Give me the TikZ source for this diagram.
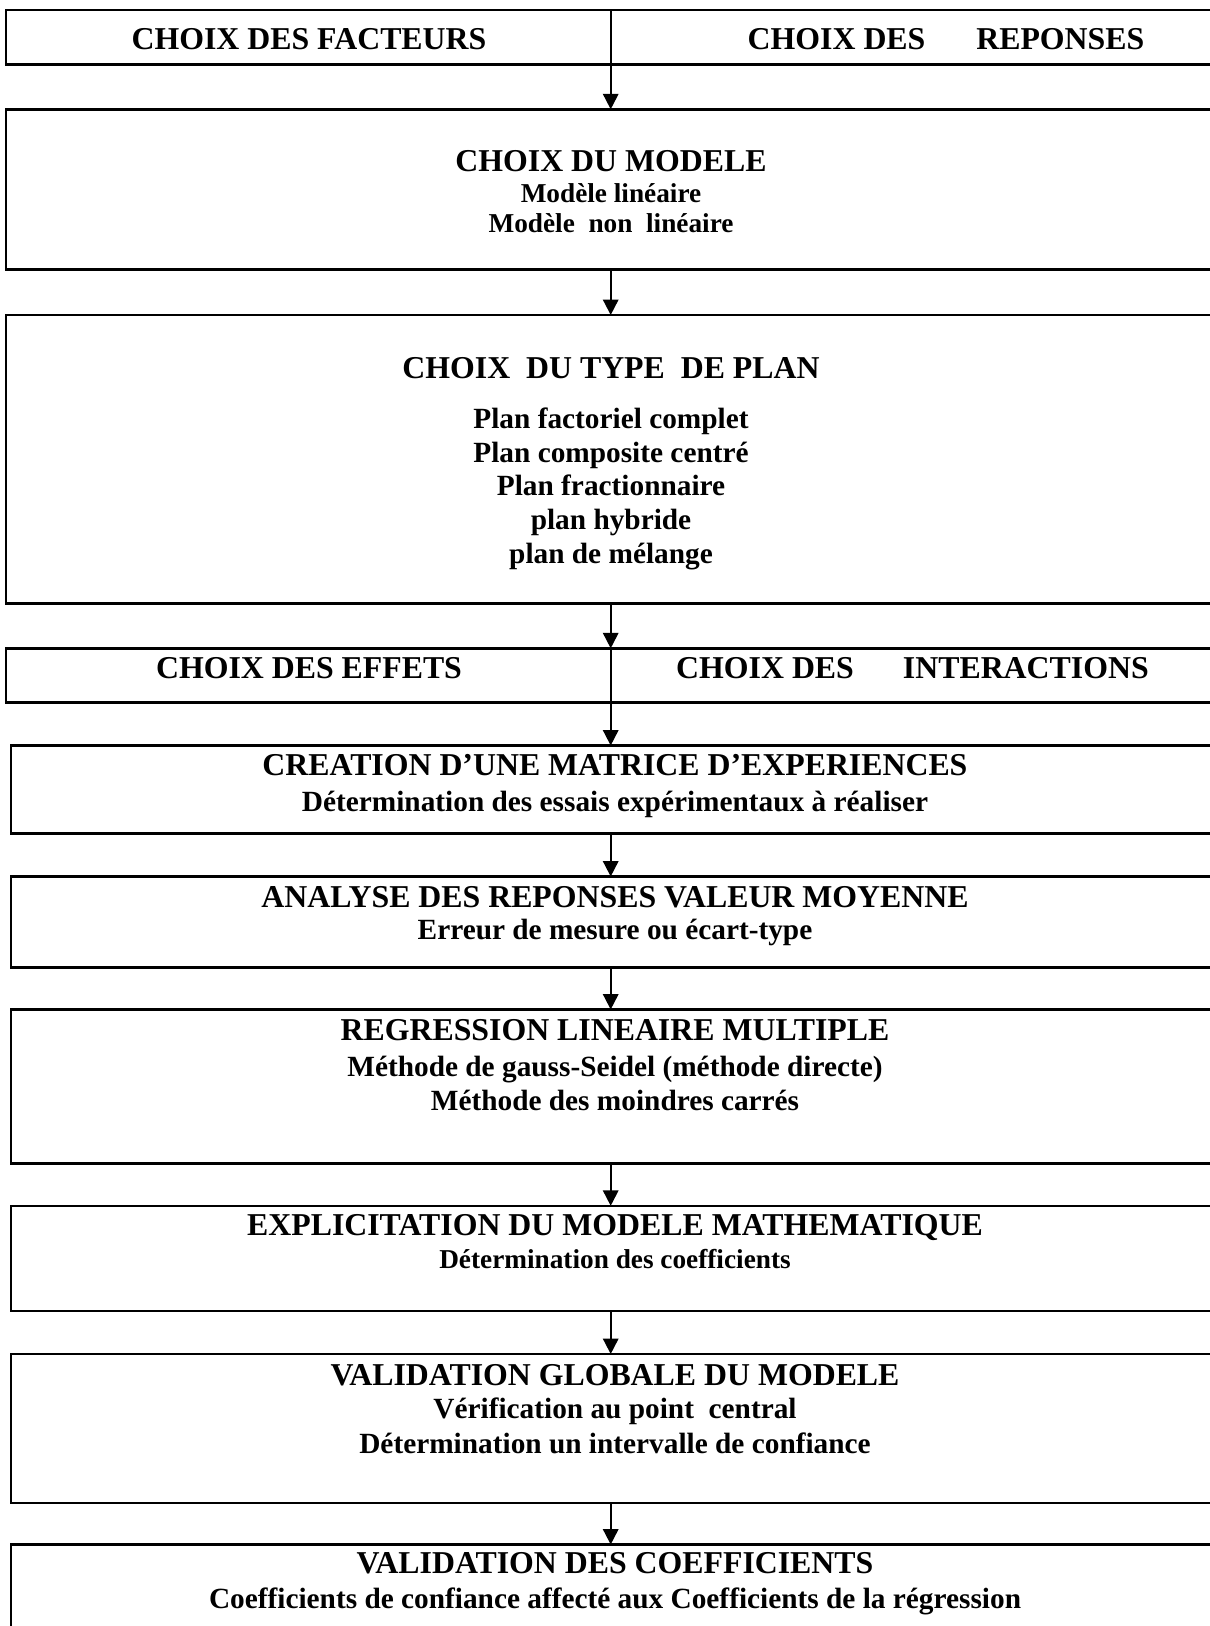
\documentclass[tikz,border=0pt]{standalone}
\usepackage{fontspec}
\setmainfont{Liberation Serif}
\usetikzlibrary{arrows.meta, fit}

\begin{document}
\begin{tikzpicture}[
  x=0.44pt, y=-0.44pt,
  box/.style={draw, line width=1.1pt, inner sep=0pt, outer sep=0pt},
  ttl/.style={anchor=base, inner sep=0pt, font=\fontsize{14}{16}\selectfont\bfseries},
  sub/.style={anchor=base, inner sep=0pt, font=\fontsize{12.9}{15}\selectfont\bfseries},
  subsm/.style={anchor=base, inner sep=0pt, font=\fontsize{12}{14}\selectfont\bfseries},
  arr/.style={-{Triangle[length=6.8pt, width=6.8pt]}, line width=0.8pt},
]
\path[use as bounding box, fill=white] (0,0) rectangle (1210,1626);
\clip (0,0) rectangle (1210,1626);

% Boxes
\node[box, fit={(6,10) (1216,64.3)}] (b1) {};
\node[box, fit={(6,109.3) (1216,269.3)}] (b2) {};
\node[box, fit={(6,315) (1216,603.3)}] (b3) {};
\node[box, fit={(6,648.3) (1216,702.7)}] (b4) {};
\node[box, fit={(11,745.5) (1219,833.5)}] (b5) {};
\node[box, fit={(11,876.5) (1219,967.5)}] (b6) {};
\node[box, fit={(11,1009.5) (1219,1163.5)}] (b7) {};
\node[box, fit={(11,1205.8) (1219,1311)}] (b8) {};
\node[box, fit={(11,1354) (1219,1502.8)}] (b9) {};
\node[box, fit={(11,1544.5) (1219,1640)}] (b10) {};
\coordinate (axis) at (610.7,0);

% Facteurs / reponses
\node[ttl] (fact) at (309,49.3) {CHOIX DES FACTEURS};
\node[ttl] (rep) at (946,49.3) {CHOIX DES\hspace{22.4pt}REPONSES};

% Modele
\node[ttl] (mod) at (611,171.7) {CHOIX DU MODELE};
\node[subsm] (modlin) at (611,202.7) {Modèle linéaire};
\node[subsm] (modnl) at (611,232.3) {Modèle~~non~~linéaire};

% Type de plan
\node[ttl] (plan) at (611,378.3) {CHOIX~~DU TYPE~~DE PLAN};
\node[sub] (pfc) at (611,428.3) {Plan factoriel complet};
\node[sub] (pcc) at (611,462) {Plan composite centré};
\node[sub] (pfr) at (611,495.8) {Plan fractionnaire};
\node[sub] (phy) at (611,529.5) {plan hybride};
\node[sub] (pmel) at (611,563.3) {plan de mélange};

% Effets / interactions
\node[ttl] (eff) at (309,678.3) {CHOIX DES EFFETS};
\node[ttl] (inter) at (912.5,678.3) {CHOIX DES\hspace{21.6pt}INTERACTIONS};

% Matrice
\node[ttl] (mat) at (615,775) {CREATION D’UNE MATRICE D’EXPERIENCES};
\node[sub] (essais) at (615,811) {Détermination des essais expérimentaux à réaliser};

% Analyse
\node[ttl] (ana) at (615,907) {ANALYSE DES REPONSES VALEUR MOYENNE};
\node[sub] (err) at (615,939.5) {Erreur de mesure ou écart-type};

% Regression
\node[ttl] (reg) at (615,1040) {REGRESSION LINEAIRE MULTIPLE};
\node[sub] (gs) at (615,1076) {Méthode de gauss-Seidel (méthode directe)};
\node[sub] (mc) at (615,1110) {Méthode des moindres carrés};

% Modele mathematique
\node[ttl] (expl) at (615,1235) {EXPLICITATION DU MODELE MATHEMATIQUE};
\node[subsm] (coef) at (615,1268.5) {Détermination des coefficients};

% Validation globale
\node[ttl] (valg) at (615,1385) {VALIDATION GLOBALE DU MODELE};
\node[sub] (verif) at (615,1418.5) {Vérification au point~~central};
\node[sub] (interv) at (615,1453) {Détermination un intervalle de confiance};

% Validation coefficients
\node[ttl] (valc) at (615,1573.3) {VALIDATION DES COEFFICIENTS};
\node[sub] (conf) at (615,1608.5) {Coefficients de confiance affecté aux Coefficients de la régression};

% Arrows
\draw[arr] (b1.north -| axis) -- (b2.north -| axis);
\draw[arr] (b2.south -| axis) -- (b3.north -| axis);
\draw[arr] (b3.south -| axis) -- (b4.north -| axis);
\draw[arr] (b4.north -| axis) -- (b5.north -| axis);
\draw[arr] (b5.south -| axis) -- (b6.north -| axis);
\draw[arr] (b6.south -| axis) -- (b7.north -| axis);
\draw[arr] (b7.south -| axis) -- (b8.north -| axis);
\draw[arr] (b8.south -| axis) -- (b9.north -| axis);
\draw[arr] (b9.south -| axis) -- (b10.north -| axis);

\end{tikzpicture}
\end{document}
